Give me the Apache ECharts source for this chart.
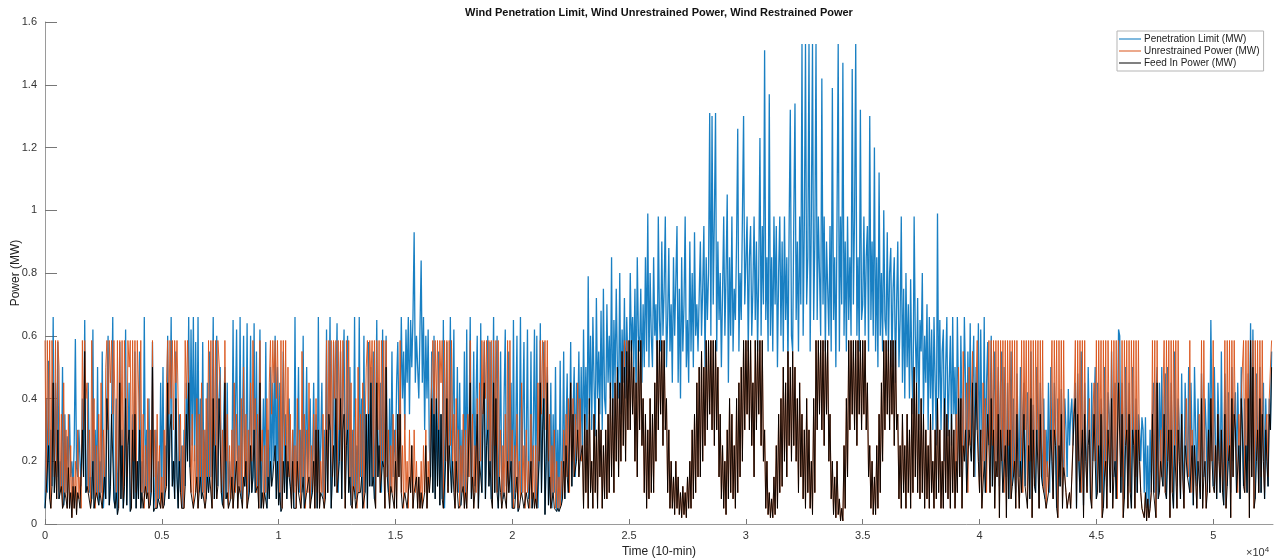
<!DOCTYPE html>
<html>
<head>
<meta charset="utf-8">
<script src="https://cdn.jsdelivr.net/npm/echarts@6/dist/echarts.min.js"></script>
<style>
html,body{margin:0;padding:0;background:#fff;}
#chart{width:1281px;height:560px;}
</style>
</head>
<body>
<div id="chart"></div>
<script>
// Sample spacing (10-min steps) of the arrays below
const TIME_STEP = 50;
const X_TICKS = [0, 5000, 10000, 15000, 20000, 25000, 30000, 35000, 40000, 45000, 50000];
const SERIES_NAMES = ['Penetration Limit (MW)', 'Unrestrained Power (MW)', 'Feed In Power (MW)'];

const PEN_LIMIT = [
.05,.40,.10,.52,.08,.30,.12,.66,.10,.45,.15,.58,.08,.20,.12,.50,.06,.35,.10,.28,
.18,.35,.15,.20,.12,.25,.59,.18,.15,.30,.20,.12,.40,.15,.65,.10,.12,.45,.10,.15,
.08,.62,.05,.30,.10,.50,.06,.20,.10,.55,.05,.15,.08,.40,.60,.06,.12,.35,.66,.08,
.05,.40,.03,.20,.58,.08,.30,.05,.12,.62,.06,.25,.45,.04,.10,.35,.08,.55,.05,.20,
.08,.55,.05,.20,.10,.66,.12,.30,.10,.40,.06,.15,.58,.04,.10,.30,.05,.20,.08,.45,
.10,.50,.06,.25,.12,.60,.08,.35,.66,.12,.20,.08,.55,.15,.05,.35,.10,.25,.05,.30,
.12,.45,.20,.66,.18,.62,.25,.66,.20,.58,.15,.66,.10,.40,.08,.58,.10,.30,.08,.45,
.10,.55,.15,.30,.66,.08,.25,.60,.12,.40,.50,.10,.06,.35,.50,.08,.45,.06,.20,.10,
.15,.65,.10,.35,.62,.20,.12,.66,.08,.30,.60,.12,.20,.64,.08,.25,.60,.10,.15,.64,
.10,.55,.12,.30,.62,.05,.20,.40,.10,.58,.05,.30,.08,.50,.12,.45,.20,.60,.08,.50,
.06,.45,.04,.25,.55,.10,.35,.08,.20,.40,.12,.08,.30,.05,.66,.12,.20,.50,.10,.30,
.10,.60,.05,.25,.50,.15,.30,.40,.08,.20,.45,.12,.35,.05,.66,.10,.25,.45,.08,.30,
.08,.62,.10,.35,.66,.05,.20,.58,.12,.40,.64,.10,.30,.55,.08,.45,.62,.10,.25,.60,
.10,.50,.06,.30,.12,.66,.08,.25,.10,.66,.15,.40,.05,.60,.10,.35,.05,.58,.12,.50,
.12,.55,.08,.30,.65,.15,.25,.45,.10,.62,.18,.35,.60,.20,.10,.40,.12,.55,.15,.30,
.20,.45,.58,.30,.35,.66,.40,.55,.30,.62,.45,.66,.35,.65,.50,.66,.93,.45,.60,.50,
.40,.62,.84,.45,.66,.30,.60,.40,.62,.25,.15,.55,.10,.60,.08,.40,.12,.55,.06,.35,
.08,.65,.05,.30,.58,.12,.25,.66,.10,.35,.62,.06,.20,.50,.10,.45,.06,.30,.12,.55,
.10,.62,.15,.30,.66,.08,.25,.55,.12,.40,.60,.05,.20,.64,.10,.35,.58,.08,.25,.60,
.12,.58,.08,.30,.66,.10,.45,.60,.05,.25,.55,.10,.08,.40,.62,.12,.20,.55,.10,.45,
.05,.65,.08,.30,.60,.04,.20,.66,.10,.35,.58,.06,.25,.62,.08,.15,.55,.05,.30,.62,
.08,.60,.05,.25,.64,.10,.30,.58,.03,.20,.50,.06,.15,.45,.05,.35,.10,.50,.04,.30,
.04,.52,.06,.20,.55,.08,.30,.48,.10,.25,.58,.12,.35,.50,.15,.45,.30,.55,.20,.50,
.20,.62,.30,.50,.25,.79,.35,.60,.30,.66,.45,.28,.72,.40,.55,.35,.68,.30,.75,.40,
.35,.70,.45,.60,.40,.85,.30,.65,.45,.75,.50,.40,.80,.35,.62,.45,.72,.40,.66,.50,
.45,.80,.55,.66,.50,.75,.40,.85,.60,.55,.75,.45,.70,.50,.85,.55,.99,.50,.80,.60,
.50,.85,.60,.70,.45,.98,.65,.55,.90,.60,.75,.98,.50,.65,.88,.55,.70,.45,.85,.60,
.60,.95,.45,.75,.40,.85,.55,.70,.98,.50,.65,.45,.90,.55,.80,.50,.93,.60,.70,.55,
.55,.90,.60,.75,.95,.50,.85,.65,.80,1.31,.60,1.30,.70,.98,1.31,.55,.90,.65,.80,.50,
.50,.98,.60,.80,1.05,.45,.85,.60,.98,.55,.75,.65,.90,1.26,.55,.80,.65,.98,1.30,.70,
.70,.98,.55,.85,.95,.60,.75,.98,.65,.90,.55,.80,1.23,.60,.95,.70,1.51,.65,.85,.55,
1.37,.60,.85,.55,.98,.70,.95,.50,.80,.98,.60,.90,.55,.98,.65,.85,.50,.95,1.32,.60,
.55,.98,1.34,.65,.90,.55,.98,.70,1.53,.60,.95,1.53,.70,.85,1.53,.55,.98,1.53,.65,.90,
1.53,.65,.98,.80,.60,1.42,.70,.98,.55,.90,.75,.60,.95,.55,1.39,.65,.85,.50,.98,1.53,
.55,.98,.70,1.47,.60,.90,.55,.98,.65,.85,.60,1.45,.70,.98,1.53,.60,.85,.55,1.32,.65,
.70,.98,.60,.85,.95,.55,1.30,.65,.90,.60,1.20,.55,.85,.50,1.12,.60,.80,.55,1.00,.65,
.60,.93,.55,.80,.88,.50,.75,.85,.45,.70,.90,.50,.65,.98,.45,.75,.40,.80,.50,.70,
.40,.78,.50,.35,.98,.60,.45,.72,.30,.65,.55,.80,.35,.60,.45,.70,.30,.66,.40,.62,
.30,.66,.45,.25,.99,.40,.65,.30,.55,.62,.20,.50,.66,.28,.45,.60,.25,.66,.35,.50,
.20,.66,.40,.15,.60,.35,.25,.66,.45,.10,.55,.30,.64,.20,.45,.60,.15,.50,.30,.64,
.15,.62,.30,.20,.66,.10,.45,.58,.25,.35,.60,.12,.40,.55,.20,.30,.50,.12,.45,.55,
.10,.50,.25,.15,.45,.08,.30,.55,.12,.40,.20,.10,.48,.30,.15,.50,.10,.35,.45,.12,
.12,.42,.25,.08,.55,.20,.38,.15,.10,.50,.30,.05,.45,.25,.12,.40,.08,.30,.15,.45,
.10,.50,.20,.08,.45,.30,.05,.40,.25,.12,.43,.20,.18,.40,.30,.15,.43,.25,.35,.40,
.25,.35,.45,.05,.48,.20,.10,.55,.30,.06,.45,.25,.12,.50,.30,.08,.45,.20,.35,.50,
.08,.45,.25,.10,.40,.30,.05,.50,.20,.12,.42,.35,.10,.55,.25,.15,.45,.08,.30,.62,
.60,.10,.45,.25,.08,.50,.30,.12,.45,.20,.05,.50,.25,.15,.40,.10,.35,.30,.20,.34,
.30,.10,.34,.05,.25,.02,.30,.10,.35,.45,.10,.40,.50,.08,.45,.20,.50,.12,.40,.48,
.08,.50,.30,.10,.45,.20,.05,.55,.25,.12,.40,.30,.08,.48,.20,.10,.45,.25,.15,.50,
.10,.45,.25,.06,.50,.30,.12,.40,.20,.08,.48,.25,.15,.40,.30,.10,.45,.20,.65,.35,
.12,.50,.25,.08,.45,.30,.10,.55,.20,.06,.48,.30,.12,.42,.25,.10,.50,.20,.35,.42,
.10,.45,.25,.08,.50,.30,.12,.40,.25,.10,.48,.20,.64,.15,.62,.25,.08,.48,.30,.10,
.50,.10,.35,.45,.08,.40,.20,.12,.40,.30,.55
];

const UNRESTRAINED = [
.585,.10,.585,.25,.585,.05,.585,.585,.15,.585,.08,.585,.50,.10,.35,.05,.45,.10,.30,.05,
.35,.05,.25,.02,.15,.05,.20,.03,.30,.08,.15,.05,.585,.30,.585,.40,.45,.10,.30,.05,
.585,.20,.40,.05,.25,.08,.35,.10,.45,.05,.30,.15,.50,.585,.30,.585,.45,.585,.35,.585,
.585,.10,.585,.05,.585,.25,.585,.08,.585,.585,.15,.585,.50,.585,.05,.585,.20,.585,.10,.585,
.585,.30,.585,.10,.35,.05,.25,.08,.40,.05,.30,.10,.585,.15,.30,.05,.35,.08,.25,.05,
.15,.05,.30,.10,.45,.585,.35,.585,.40,.585,.30,.585,.45,.585,.585,.20,.35,.05,.25,.05,
.585,.40,.585,.585,.30,.10,.35,.05,.25,.10,.40,.05,.35,.15,.45,.10,.30,.05,.40,.15,
.585,.15,.585,.05,.585,.25,.585,.08,.585,.585,.45,.10,.30,.05,.585,.20,.35,.05,.25,.08,
.30,.05,.45,.10,.35,.05,.25,.10,.40,.05,.50,.15,.35,.05,.30,.10,.45,.20,.585,.30,
.40,.10,.35,.05,.585,.20,.30,.05,.25,.10,.40,.15,.45,.585,.35,.585,.45,.585,.40,.585,
.585,.10,.585,.05,.585,.25,.585,.15,.50,.15,.35,.05,.30,.10,.25,.05,.40,.10,.30,.05,
.55,.15,.35,.05,.30,.10,.45,.05,.25,.10,.35,.05,.40,.10,.30,.05,.20,.10,.35,.05,
.25,.585,.10,.585,.30,.585,.15,.585,.40,.585,.10,.585,.30,.585,.20,.585,.35,.05,.585,.30,
.585,.15,.45,.05,.30,.10,.40,.05,.50,.10,.35,.15,.45,.05,.30,.50,.585,.35,.585,.45,
.585,.15,.585,.05,.585,.30,.585,.10,.585,.20,.585,.05,.585,.15,.30,.05,.25,.10,.35,.05,
.30,.05,.35,.15,.585,.10,.25,.05,.35,.10,.20,.05,.30,.10,.25,.05,.30,.10,.20,.05,
.15,.05,.20,.05,.25,.10,.30,.05,.20,.10,.35,.45,.585,.35,.585,.40,.585,.30,.585,.45,
.585,.05,.585,.20,.585,.10,.585,.25,.585,.20,.35,.05,.40,.10,.30,.05,.25,.10,.35,.05,
.30,.05,.35,.15,.585,.10,.35,.05,.25,.10,.40,.05,.45,.20,.585,.35,.585,.40,.585,.30,
.585,.20,.585,.05,.585,.25,.585,.10,.585,.15,.30,.05,.25,.10,.35,.05,.585,.10,.585,.20,
.30,.05,.25,.10,.35,.05,.20,.08,.45,.10,.25,.05,.30,.10,.20,.05,.35,.08,.25,.05,
.25,.05,.45,.20,.585,.35,.585,.40,.585,.30,.585,.20,.35,.05,.25,.10,.30,.05,.20,.05,
.15,.05,.20,.08,.30,.10,.35,.15,.40,.10,.45,.20,.40,.15,.35,.20,.45,.15,.40,.20,
.25,.05,.35,.10,.30,.05,.40,.10,.20,.05,.35,.10,.30,.05,.40,.15,.30,.05,.25,.08,
.30,.08,.35,.10,.45,.15,.40,.10,.45,.20,.50,.15,.45,.20,.55,.25,.585,.20,.585,.30,
.585,.30,.585,.35,.50,.20,.45,.15,.585,.30,.585,.25,.40,.10,.35,.05,.30,.08,.40,.10,
.35,.10,.45,.20,.585,.30,.585,.35,.585,.25,.585,.30,.40,.10,.30,.05,.20,.05,.15,.03,
.20,.05,.15,.03,.10,.02,.12,.03,.10,.02,.15,.05,.20,.05,.30,.08,.35,.10,.45,.15,
.50,.15,.55,.20,.50,.25,.585,.30,.585,.35,.585,.30,.585,.25,.585,.30,.50,.15,.35,.08,
.25,.05,.20,.03,.30,.08,.40,.10,.35,.08,.25,.05,.40,.10,.45,.15,.50,.20,.585,.30,
.585,.35,.585,.30,.585,.25,.45,.15,.585,.30,.585,.35,.585,.25,.585,.20,.30,.05,.20,.03,
.10,.02,.08,.02,.15,.03,.25,.05,.35,.10,.40,.12,.50,.20,.45,.15,.55,.25,.50,.20,
.55,.25,.50,.20,.40,.10,.45,.15,.35,.08,.30,.05,.40,.10,.30,.05,.20,.03,.40,.10,
.585,.30,.585,.35,.585,.30,.585,.25,.585,.35,.585,.20,.35,.08,.20,.03,.15,.02,.20,.03,
.08,.01,.05,.01,.25,.05,.40,.15,.585,.30,.585,.35,.585,.30,.585,.25,.585,.35,.585,.30,
.585,.35,.585,.30,.45,.15,.25,.05,.20,.03,.15,.03,.25,.05,.35,.10,.45,.20,.585,.30,
.585,.35,.585,.30,.585,.35,.585,.25,.585,.30,.35,.08,.25,.05,.35,.10,.25,.05,.35,.10,
.30,.05,.40,.10,.50,.15,.45,.10,.35,.08,.40,.10,.35,.05,.30,.08,.25,.05,.35,.10,
.20,.05,.30,.08,.40,.10,.30,.05,.20,.05,.40,.10,.35,.08,.30,.05,.35,.10,.30,.05,
.35,.10,.50,.15,.40,.05,.55,.20,.30,.45,.10,.50,.25,.40,.55,.15,.30,.45,.585,.20,
.10,.30,.05,.45,.20,.40,.10,.35,.585,.10,.585,.25,.585,.05,.585,.15,.585,.02,.585,.20,
.585,.10,.585,.02,.585,.25,.585,.08,.585,.15,.585,.05,.585,.15,.05,.20,.585,.10,.585,.30,
.585,.05,.585,.20,.585,.02,.585,.12,.585,.30,.585,.05,.585,.15,.585,.10,.30,.05,.20,.10,
.20,.40,.585,.08,.585,.25,.585,.02,.585,.15,.585,.05,.585,.15,.10,.05,.08,.10,.05,.15,
.15,.40,.585,.05,.585,.20,.585,.10,.585,.02,.585,.20,.10,.30,.40,.15,.05,.35,.45,.20,
.585,.10,.585,.25,.585,.02,.585,.15,.585,.05,.585,.30,.10,.585,.05,.585,.20,.585,.08,.585,
.585,.15,.585,.02,.585,.25,.585,.05,.585,.10,.585,.30,.585,.05,.585,.15,.585,.20,.10,.05,
.05,.02,.10,.01,.08,.02,.05,.10,.585,.10,.585,.02,.585,.20,.10,.30,.15,.40,.585,.10,
.585,.20,.585,.02,.585,.10,.585,.25,.585,.05,.585,.20,.10,.35,.15,.05,.25,.40,.20,.15,
.585,.10,.30,.10,.25,.15,.05,.20,.35,.10,.585,.05,.585,.20,.05,.15,.30,.10,.40,.20,
.585,.10,.25,.10,.35,.20,.15,.30,.10,.20,.585,.05,.585,.20,.585,.02,.585,.15,.585,.30,
.20,.10,.35,.25,.40,.50,.585,.10,.585,.25,.585,.02,.585,.15,.585,.05,.585,.20,.585,.10,
.585,.15,.585,.20,.10,.30,.35,.15,.40,.50,.585
];

const FEED_IN = [
.05,.10,.10,.25,.08,.05,.12,.45,.10,.20,.08,.30,.08,.10,.12,.05,.06,.10,.08,.05,
.18,.05,.10,.02,.12,.05,.12,.03,.10,.08,.05,.05,.30,.15,.55,.10,.12,.10,.10,.05,
.08,.20,.05,.05,.10,.08,.06,.10,.10,.05,.05,.15,.08,.40,.30,.06,.12,.35,.35,.08,
.05,.10,.03,.05,.45,.08,.25,.05,.12,.40,.06,.25,.30,.04,.05,.30,.08,.35,.05,.20,
.08,.30,.05,.10,.05,.05,.12,.08,.10,.05,.06,.10,.50,.04,.05,.05,.05,.08,.08,.05,
.10,.05,.06,.10,.12,.45,.08,.30,.35,.12,.20,.08,.40,.15,.05,.20,.10,.05,.05,.05,
.12,.35,.20,.45,.18,.10,.10,.05,.05,.10,.15,.05,.10,.15,.08,.10,.10,.05,.08,.15,
.10,.15,.15,.05,.40,.08,.25,.08,.12,.40,.40,.10,.06,.05,.45,.08,.10,.05,.05,.08,
.15,.05,.10,.10,.20,.05,.12,.10,.08,.05,.15,.12,.20,.05,.05,.10,.25,.10,.15,.30,
.10,.10,.12,.05,.45,.05,.10,.05,.10,.10,.05,.15,.08,.20,.12,.15,.20,.25,.08,.20,
.06,.10,.04,.05,.20,.10,.25,.08,.20,.15,.12,.05,.20,.05,.05,.05,.20,.10,.10,.05,
.10,.15,.05,.05,.10,.10,.15,.05,.08,.10,.20,.05,.30,.05,.30,.05,.10,.10,.08,.05,
.08,.30,.10,.35,.30,.05,.15,.25,.12,.40,.10,.10,.20,.40,.08,.30,.35,.05,.25,.30,
.10,.15,.06,.05,.12,.10,.05,.05,.10,.10,.10,.15,.05,.05,.10,.35,.05,.35,.12,.45,
.12,.15,.08,.05,.45,.15,.25,.10,.10,.20,.18,.05,.50,.15,.10,.05,.12,.10,.10,.05,
.20,.05,.35,.15,.35,.10,.05,.05,.10,.10,.05,.05,.15,.10,.25,.05,.10,.10,.15,.05,
.15,.05,.10,.05,.05,.10,.25,.05,.15,.10,.15,.40,.10,.35,.08,.40,.12,.30,.06,.35,
.08,.05,.05,.20,.40,.10,.25,.25,.10,.20,.10,.05,.20,.10,.05,.05,.06,.10,.12,.05,
.10,.05,.15,.15,.45,.08,.15,.05,.10,.10,.35,.05,.20,.20,.10,.35,.45,.08,.25,.30,
.12,.20,.08,.05,.45,.10,.40,.10,.05,.15,.10,.05,.08,.10,.10,.05,.20,.10,.10,.20,
.05,.05,.05,.10,.15,.04,.05,.08,.10,.10,.05,.05,.10,.10,.05,.05,.20,.05,.10,.05,
.08,.05,.05,.20,.45,.10,.30,.40,.03,.20,.45,.06,.15,.05,.05,.10,.05,.05,.04,.05,
.04,.05,.06,.08,.20,.08,.25,.15,.10,.10,.45,.12,.35,.15,.15,.20,.30,.15,.20,.20,
.25,.05,.35,.10,.30,.05,.40,.10,.20,.05,.35,.10,.30,.05,.40,.15,.30,.05,.25,.08,
.30,.08,.35,.10,.45,.15,.40,.10,.45,.20,.50,.15,.45,.20,.55,.25,.50,.20,.55,.30,
.585,.30,.585,.35,.50,.20,.45,.15,.585,.30,.585,.25,.40,.10,.35,.05,.30,.08,.40,.10,
.35,.10,.45,.20,.585,.30,.585,.35,.585,.25,.585,.30,.40,.10,.30,.05,.20,.05,.15,.03,
.20,.05,.15,.03,.10,.02,.12,.03,.10,.02,.15,.05,.20,.05,.30,.08,.35,.10,.45,.15,
.50,.15,.55,.20,.50,.25,.585,.30,.585,.35,.585,.30,.585,.25,.585,.30,.50,.15,.35,.08,
.25,.05,.20,.03,.30,.08,.40,.10,.35,.08,.25,.05,.40,.10,.45,.15,.50,.20,.585,.30,
.585,.35,.585,.30,.585,.25,.45,.15,.585,.30,.585,.35,.585,.25,.585,.20,.30,.05,.20,.03,
.10,.02,.08,.02,.15,.03,.25,.05,.35,.10,.40,.12,.50,.20,.45,.15,.55,.25,.50,.20,
.55,.25,.50,.20,.40,.10,.45,.15,.35,.08,.30,.05,.40,.10,.30,.05,.20,.03,.40,.10,
.585,.30,.585,.35,.585,.30,.585,.25,.585,.35,.585,.20,.35,.08,.20,.03,.15,.02,.20,.03,
.08,.01,.05,.01,.25,.05,.40,.15,.585,.30,.585,.35,.585,.30,.585,.25,.585,.35,.585,.30,
.585,.35,.585,.30,.45,.15,.25,.05,.20,.03,.15,.03,.25,.05,.35,.10,.45,.20,.585,.30,
.585,.35,.585,.30,.585,.35,.585,.25,.585,.30,.35,.08,.25,.05,.35,.10,.25,.05,.35,.10,
.30,.05,.40,.10,.50,.15,.45,.10,.35,.08,.40,.10,.35,.05,.30,.08,.25,.05,.35,.10,
.20,.05,.30,.08,.40,.10,.30,.05,.20,.05,.40,.10,.35,.08,.30,.05,.35,.10,.30,.05,
.20,.10,.40,.15,.40,.05,.25,.20,.30,.10,.10,.30,.25,.20,.45,.15,.15,.45,.30,.20,
.10,.30,.05,.05,.20,.10,.10,.35,.25,.10,.40,.12,.30,.05,.20,.15,.35,.02,.30,.20,
.10,.10,.25,.02,.30,.08,.30,.08,.12,.15,.20,.05,.35,.15,.05,.20,.10,.10,.35,.12,
.12,.05,.25,.08,.40,.02,.30,.12,.10,.30,.30,.05,.35,.15,.12,.10,.08,.05,.05,.10,
.10,.30,.20,.08,.30,.25,.05,.02,.25,.12,.35,.05,.18,.15,.10,.05,.08,.10,.05,.15,
.15,.35,.40,.05,.35,.20,.10,.10,.30,.02,.35,.20,.10,.25,.30,.08,.05,.20,.35,.20,
.08,.10,.25,.10,.35,.02,.05,.15,.20,.05,.30,.30,.10,.40,.05,.15,.20,.08,.08,.45,
.45,.10,.35,.02,.08,.25,.30,.05,.35,.10,.05,.30,.25,.05,.30,.10,.30,.20,.10,.05,
.05,.02,.10,.01,.08,.02,.05,.10,.35,.10,.10,.02,.45,.08,.10,.20,.15,.12,.35,.10,
.08,.20,.30,.02,.30,.10,.05,.25,.25,.05,.30,.20,.08,.35,.15,.05,.25,.25,.15,.15,
.10,.10,.25,.06,.25,.15,.05,.20,.20,.08,.40,.05,.15,.20,.05,.10,.30,.10,.40,.20,
.12,.10,.25,.08,.35,.20,.10,.30,.10,.06,.35,.05,.12,.20,.25,.02,.40,.15,.35,.30,
.10,.10,.25,.08,.40,.30,.12,.10,.25,.10,.40,.02,.585,.15,.50,.05,.08,.20,.30,.10,
.40,.10,.35,.20,.08,.30,.20,.12,.35,.30,.50
];

function pairs(vals) {
  return vals.map((v, i) => [i * TIME_STEP, v]);
}

const FONT = 'Liberation Sans, Arial, Helvetica, sans-serif';
const COLORS = ['#0072BD', '#D95319', '#000000'];

const chart = echarts.init(document.getElementById('chart'), null, {renderer: 'canvas'});
chart.setOption({
  animation: false,
  backgroundColor: '#ffffff',
  color: COLORS,
  title: {
    text: 'Wind Penetration Limit, Wind Unrestrained Power, Wind Restrained Power',
    left: 659, top: 7, textAlign: 'center', padding: 0,
    textStyle: {fontFamily: FONT, fontSize: 11, fontWeight: 'bold', color: '#111'}
  },
  legend: {
    orient: 'vertical',
    left: 1117, top: 31,
    data: SERIES_NAMES,
    icon: 'rect',
    itemWidth: 22, itemHeight: 1,
    itemGap: 2,
    padding: [3, 4, 3, 2],
    backgroundColor: '#fff',
    borderColor: '#b5b5b5', borderWidth: 1,
    textStyle: {fontFamily: FONT, fontSize: 10, color: '#222', padding: [0, 0, 0, -2]},
    selectedMode: false
  },
  grid: {left: 45, right: 8, top: 22, bottom: 36, containLabel: false, outerBoundsMode: 'none'},
  xAxis: {
    type: 'value', min: 0, max: 52560,
    name: 'Time (10-min)', nameLocation: 'middle', nameGap: 20,
    nameTextStyle: {fontFamily: FONT, fontSize: 12, color: '#222'},
    axisLine: {show: true, lineStyle: {color: '#9a9a9a', width: 1}},
    axisTick: {show: true, inside: true, length: 5, customValues: X_TICKS, lineStyle: {color: '#777'}},
    axisLabel: {fontFamily: FONT, fontSize: 11, color: '#333', margin: 6, customValues: X_TICKS,
      formatter: v => String(v / 10000)},
    splitLine: {show: false}
  },
  yAxis: {
    type: 'value', min: 0, max: 1.6, interval: 0.2,
    name: 'Power (MW)', nameLocation: 'middle', nameGap: 23, nameMoveOverlap: false,
    nameTextStyle: {fontFamily: FONT, fontSize: 12, color: '#222'},
    axisLine: {show: true, lineStyle: {color: '#9a9a9a', width: 1}},
    axisTick: {show: true, inside: true, length: 12, lineStyle: {color: '#777'}},
    axisLabel: {fontFamily: FONT, fontSize: 11, color: '#333', margin: 8,
      formatter: v => String(Math.round(v * 10) / 10)},
    splitLine: {show: false}
  },
  graphic: [{
    type: 'text', left: 1246, top: 546,
    style: {
      text: '×10{s|4}', fontFamily: FONT, fontSize: 11, fill: '#333',
      rich: {s: {fontSize: 8, verticalAlign: 'top', padding: [0, 0, 6, 0], fill: '#333'}}
    }
  }],
  series: [
    {name: SERIES_NAMES[0], type: 'line', data: pairs(PEN_LIMIT), showSymbol: false, symbol: 'none',
      lineStyle: {width: 1.3, color: COLORS[0], opacity: 0.9}, silent: true, z: 1},
    {name: SERIES_NAMES[1], type: 'line', data: pairs(UNRESTRAINED), showSymbol: false, symbol: 'none',
      lineStyle: {width: 1, color: COLORS[1], opacity: 0.9}, silent: true, z: 2},
    {name: SERIES_NAMES[2], type: 'line', data: pairs(FEED_IN), showSymbol: false, symbol: 'none',
      lineStyle: {width: 1, color: COLORS[2], opacity: 0.9}, silent: true, z: 3}
  ]
});
</script>
</body>
</html>
